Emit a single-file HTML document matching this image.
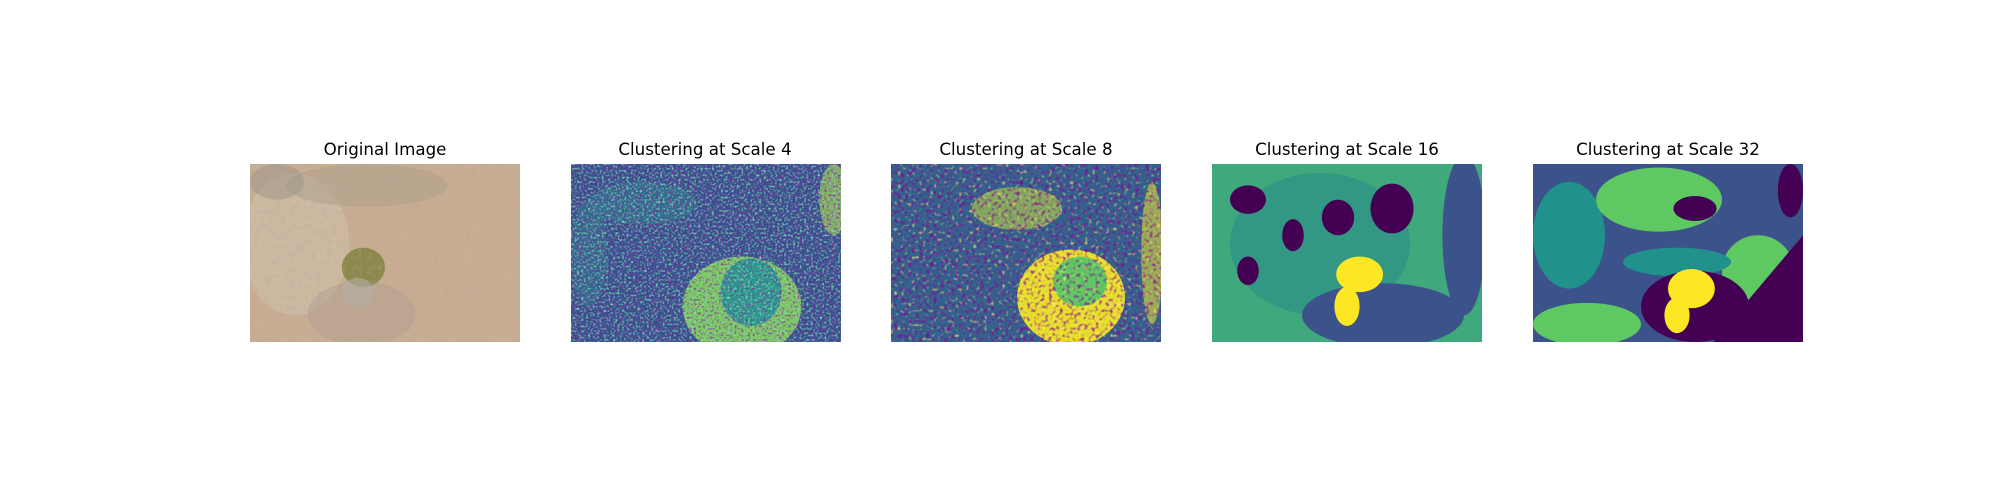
<!DOCTYPE html>
<html><head><meta charset="utf-8"><style>
body{margin:0;background:#fff;width:2000px;height:500px;overflow:hidden;font-family:"DejaVu Sans","Liberation Sans",sans-serif}
.t{position:absolute;font-size:16.7px;text-align:center;width:300px;color:#000}
svg.p{position:absolute;top:164px;width:270px;height:178px}
</style></head><body>
<div class="t" style="left:235px;top:139px">Original Image</div>
<div class="t" style="left:555px;top:139px">Clustering at Scale 4</div>
<div class="t" style="left:876px;top:139px">Clustering at Scale 8</div>
<div class="t" style="left:1197px;top:139px">Clustering at Scale 16</div>
<div class="t" style="left:1518px;top:139px">Clustering at Scale 32</div>

<svg class="p" style="left:250px" viewBox="0 0 150 100" preserveAspectRatio="none">
<defs><filter id="n1" x="0" y="0" width="1" height="1"><feTurbulence type="fractalNoise" baseFrequency="0.35" numOctaves="3" seed="3"/><feColorMatrix values="0 0 0 0 0.45 0 0 0 0 0.38 0 0 0 0 0.32 1 0 0 0 -0.5"/></filter></defs>
<rect width="150" height="100" fill="#c8ad93"/>
<ellipse cx="25" cy="45" rx="30" ry="40" fill="#d2c3b0" opacity="0.5"/>
<ellipse cx="65" cy="12" rx="45" ry="12" fill="#a89c8a" opacity="0.45"/>
<ellipse cx="15" cy="10" rx="15" ry="10" fill="#9a9488" opacity="0.5"/>
<ellipse cx="62" cy="84" rx="30" ry="18" fill="#ae9c90" opacity="0.45"/>
<ellipse cx="63" cy="58" rx="12" ry="11" fill="#8b8a4c"/>
<ellipse cx="60" cy="72" rx="9" ry="8" fill="#b4aea6" opacity="0.6"/>
<rect width="150" height="100" filter="url(#n1)"/>
</svg>

<svg class="p" style="left:571px" viewBox="0 0 150 100" preserveAspectRatio="none">
<defs><filter id="n2" x="0" y="0" width="1" height="1"><feTurbulence type="fractalNoise" baseFrequency="0.8" numOctaves="1" seed="5"/><feColorMatrix values="0 0 0 0 0.2 0 0 0 0 0.75 0 0 0 0 0.45 3 0 0 0 -1.4"/></filter>
<filter id="n2b" x="0" y="0" width="1" height="1"><feTurbulence type="fractalNoise" baseFrequency="0.8" numOctaves="1" seed="11"/><feColorMatrix values="0 0 0 0 0.27 0 0 0 0 0.02 0 0 0 0 0.4 3 0 0 0 -1.5"/></filter></defs>
<rect width="150" height="100" fill="#344f8c"/>
<ellipse cx="40" cy="22" rx="30" ry="12" fill="#2a7f8c" opacity="0.6"/>
<ellipse cx="10" cy="50" rx="10" ry="30" fill="#2a7f8c" opacity="0.5"/>
<ellipse cx="95" cy="80" rx="33" ry="28" fill="#7cc85a"/>
<ellipse cx="100" cy="72" rx="17" ry="19" fill="#25988a"/>
<ellipse cx="146" cy="20" rx="8" ry="20" fill="#a8d448" opacity="0.7"/>
<rect width="150" height="100" filter="url(#n2)"/>
<rect width="150" height="100" filter="url(#n2b)"/>
</svg>

<svg class="p" style="left:891px" viewBox="0 0 150 100" preserveAspectRatio="none">
<defs><filter id="n3" x="0" y="0" width="1" height="1"><feTurbulence type="fractalNoise" baseFrequency="0.5" numOctaves="1" seed="9"/><feColorMatrix values="0 0 0 0 0.27 0 0 0 0 0.0 0 0 0 0 0.33 3 0 0 0 -1.5"/></filter>
<filter id="n3b" x="0" y="0" width="1" height="1"><feTurbulence type="fractalNoise" baseFrequency="0.5" numOctaves="1" seed="21"/><feColorMatrix values="0 0 0 0 0.99 0 0 0 0 0.9 0 0 0 0 0.15 3 0 0 0 -1.75"/></filter></defs>
<rect width="150" height="100" fill="#33628c"/>
<ellipse cx="70" cy="25" rx="25" ry="12" fill="#b8d840" opacity="0.6"/>
<ellipse cx="100" cy="75" rx="30" ry="27" fill="#e6e02c"/>
<ellipse cx="105" cy="66" rx="15" ry="14" fill="#5ec962"/>
<ellipse cx="145" cy="50" rx="6" ry="40" fill="#e0e030" opacity="0.6"/>
<rect width="150" height="100" filter="url(#n3)"/>
<rect width="150" height="100" filter="url(#n3b)"/>
</svg>

<svg class="p" style="left:1212px" viewBox="0 0 150 100" preserveAspectRatio="none">
<rect width="150" height="100" fill="#3fa87c"/>
<ellipse cx="60" cy="45" rx="50" ry="40" fill="#2a8e8a" opacity="0.6"/>
<ellipse cx="140" cy="40" rx="12" ry="45" fill="#3b528b"/>
<ellipse cx="95" cy="85" rx="45" ry="18" fill="#3b528b"/>
<ellipse cx="70" cy="30" rx="9" ry="10" fill="#440154"/>
<ellipse cx="20" cy="20" rx="10" ry="8" fill="#440154"/>
<ellipse cx="100" cy="25" rx="12" ry="14" fill="#440154"/>
<ellipse cx="20" cy="60" rx="6" ry="8" fill="#440154"/>
<ellipse cx="45" cy="40" rx="6" ry="9" fill="#440154"/>
<ellipse cx="82" cy="62" rx="13" ry="10" fill="#fde725"/>
<ellipse cx="75" cy="80" rx="7" ry="11" fill="#fde725"/>
</svg>

<svg class="p" style="left:1533px" viewBox="0 0 150 100" preserveAspectRatio="none">
<rect width="150" height="100" fill="#3b528b"/>
<ellipse cx="20" cy="40" rx="20" ry="30" fill="#21918c"/>
<ellipse cx="70" cy="20" rx="35" ry="18" fill="#5ec962"/>
<ellipse cx="125" cy="60" rx="20" ry="20" fill="#5ec962"/>
<ellipse cx="30" cy="90" rx="30" ry="12" fill="#5ec962"/>
<ellipse cx="80" cy="55" rx="30" ry="8" fill="#21918c"/>
<path d="M100 100 L150 40 L150 100 Z" fill="#440154"/>
<ellipse cx="90" cy="80" rx="30" ry="20" fill="#440154"/>
<ellipse cx="90" cy="25" rx="12" ry="7" fill="#440154"/>
<ellipse cx="143" cy="15" rx="7" ry="15" fill="#440154"/>
<ellipse cx="88" cy="70" rx="13" ry="11" fill="#fde725"/>
<ellipse cx="80" cy="85" rx="7" ry="10" fill="#fde725"/>
</svg>
</body></html>
